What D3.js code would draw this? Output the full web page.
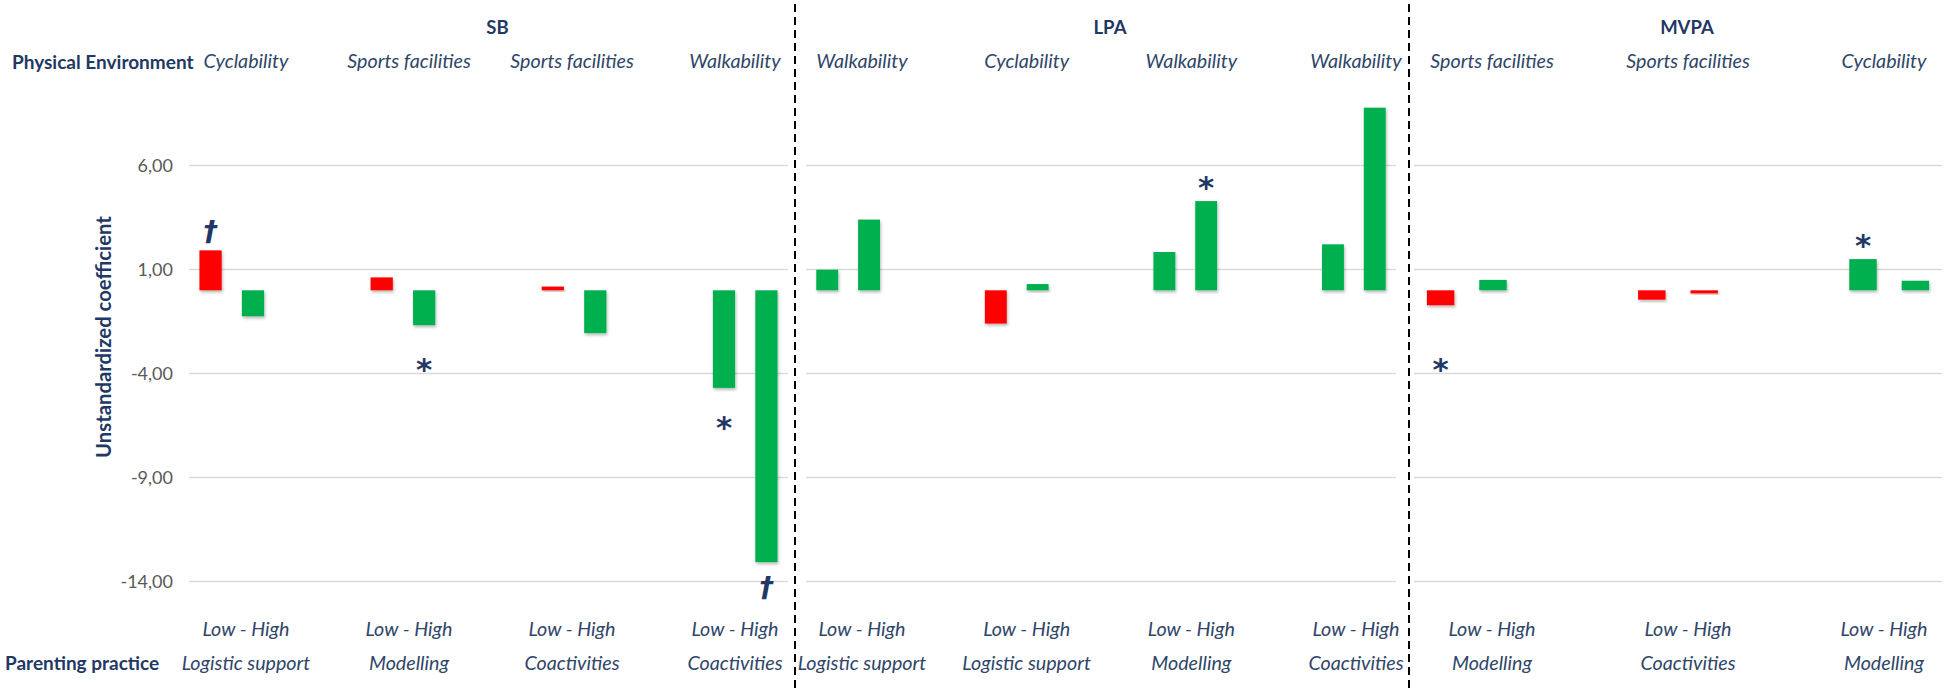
<!DOCTYPE html>
<html>
<head>
<meta charset="utf-8">
<script src="https://cdn.jsdelivr.net/npm/d3@7"></script>
<style>
  html, body { margin: 0; padding: 0; background: #fff; }
  svg { display: block; font-family: Lato, "Open Sans", sans-serif; }
</style>
</head>
<body>
<svg id="chart" width="1946" height="692"></svg>
<script>
// ---------------- data ----------------
const panels = ["SB", "LPA", "MVPA"];
const panelOf = ["SB", "SB", "SB", "SB", "LPA", "LPA", "LPA", "LPA", "MVPA", "MVPA", "MVPA"];
const environment = ["Cyclability", "Sports facilities", "Sports facilities", "Walkability",
  "Walkability", "Cyclability", "Walkability", "Walkability",
  "Sports facilities", "Sports facilities", "Cyclability"];
const practice = ["Logistic support", "Modelling", "Coactivities", "Coactivities",
  "Logistic support", "Logistic support", "Modelling", "Coactivities",
  "Modelling", "Coactivities", "Modelling"];
const levels = ["Low", "High"];
const lowValues = [1.92, 0.62, 0.18, -4.69, 0.99, -1.60, 1.84, 2.21, -0.72, -0.45, 1.50];
const highValues = [-1.25, -1.68, -2.06, -13.07, 3.40, 0.30, 4.29, 8.78, 0.50, -0.15, 0.46];
const lowColors = ["red", "red", "red", "green", "green", "red", "green", "green", "red", "red", "green"];
const highColors = ["green", "green", "green", "green", "green", "green", "green", "green", "green", "red", "green"];
const lowSig = ["†", "", "", "*", "", "", "", "", "*", "", "*"];
const highSig = ["", "*", "", "†", "", "", "*", "", "", "", ""];
const tickValues = [6, 1, -4, -9, -14];
const tickLabels = ["6,00", "1,00", "-4,00", "-9,00", "-14,00"];

// ---------------- layout ----------------
const W = 1946, H = 692;
const svg = d3.select("#chart");
const fillOf = { red: "#FF0000", green: "#00B050" };
const navy = "#1F3864";
const labelBlue = "#2F4669";

const panelRange = { SB: [189, 788], LPA: [806, 1396], MVPA: [1414, 1942] };
const labelRange = { SB: [246, 735], LPA: [862, 1356], MVPA: [1492, 1884] };
const dividers = [795, 1409];

const y = d3.scaleLinear().domain([-14, 6]).range([581.5, 165.5]);

const defs = svg.append("defs");
const f = defs.append("filter").attr("id", "shadow").attr("x", "-30%").attr("y", "-30%").attr("width", "160%").attr("height", "160%");
f.append("feDropShadow").attr("dx", 1).attr("dy", 2).attr("stdDeviation", 1.5)
  .attr("flood-color", "#000").attr("flood-opacity", 0.28);

// records
const cats = d3.range(panelOf.length);
const bars = [];
cats.forEach(i => {
  bars.push({ i, level: "Low", v: lowValues[i], color: lowColors[i], sig: lowSig[i] });
  bars.push({ i, level: "High", v: highValues[i], color: highColors[i], sig: highSig[i] });
});

// scales per panel
const xScale = {}, inner = {}, lblScale = {};
panels.forEach(p => {
  const idx = cats.filter(i => panelOf[i] === p);
  const sx = d3.scalePoint().domain(idx).range(panelRange[p]).padding(0.25);
  xScale[p] = sx;
  const st = sx.step();
  inner[p] = d3.scaleBand().domain(levels).range([-0.189 * st, 0.189 * st]).paddingInner(0.476);
  lblScale[p] = d3.scalePoint().domain(idx).range(labelRange[p]);
});

// gridlines per panel
panels.forEach(p => {
  svg.append("g").selectAll("line").data(tickValues).join("line")
    .attr("x1", panelRange[p][0]).attr("x2", panelRange[p][1])
    .attr("y1", d => y(d)).attr("y2", d => y(d))
    .attr("stroke", "#D9D9D9").attr("stroke-width", 1.6);
});

// y axis (tick labels only)
const yAxis = d3.axisLeft(y).tickValues(tickValues).tickSize(0).tickPadding(0)
  .tickFormat((d, k) => tickLabels[k]);
const ya = svg.append("g").attr("transform", "translate(173,0)").call(yAxis);
ya.select(".domain").remove();
ya.selectAll("text").attr("fill", "#595959").style("font-size", "18px").style("font-family", "Lato, sans-serif");

// axis title
svg.append("text")
  .attr("transform", "translate(103,337) rotate(-90)")
  .attr("text-anchor", "middle").attr("dominant-baseline", "central")
  .attr("fill", navy).style("font-weight", "bold").style("font-size", "20.3px")
  .text("Unstandardized coefficient");

// bars
svg.append("g").selectAll("rect").data(bars).join("rect")
  .attr("x", d => xScale[panelOf[d.i]](d.i) + inner[panelOf[d.i]](d.level))
  .attr("width", d => inner[panelOf[d.i]].bandwidth())
  .attr("y", d => y(Math.max(0, d.v)))
  .attr("height", d => Math.abs(y(d.v) - y(0)))
  .attr("fill", d => fillOf[d.color])
  .attr("filter", "url(#shadow)");

// significance markers (above positive bars, below negative bars)
const belowFloor = y(-3.4);
svg.append("g").selectAll("text").data(bars.filter(d => d.sig)).join("text")
  .attr("x", d => xScale[panelOf[d.i]](d.i) + inner[panelOf[d.i]](d.level) + inner[panelOf[d.i]].bandwidth() / 2)
  .attr("y", d => {
    const end = y(d.v);
    let c;
    if (d.v >= 0) c = end - (d.sig === "*" ? 22 : 18);
    else c = d.sig === "*" ? Math.max(end + 31, belowFloor) : end + 26;
    return d.sig === "*" ? c + 19 : c + 9;
  })
  .attr("text-anchor", "middle")
  .attr("fill", navy)
  .style("font-family", "'DejaVu Sans', sans-serif")
  .style("font-weight", "bold")
  .style("font-style", d => d.sig === "†" ? "italic" : "normal")
  .style("font-size", d => d.sig === "*" ? "31px" : "28px")
  .text(d => d.sig);

// divider lines
svg.append("g").selectAll("line").data(dividers).join("line")
  .attr("x1", d => d).attr("x2", d => d).attr("y1", 4).attr("y2", 690)
  .attr("stroke", "#000").attr("stroke-width", 2).attr("stroke-dasharray", "8,5");

// panel titles
svg.append("g").selectAll("text").data(panels).join("text")
  .attr("x", p => (panelRange[p][0] + panelRange[p][1]) / 2 + 9)
  .attr("y", 27).attr("text-anchor", "middle").attr("dominant-baseline", "central")
  .attr("fill", navy).style("font-weight", "bold").style("font-size", "18.5px")
  .text(p => p);

// row headers
svg.append("text").attr("x", 12).attr("y", 61).attr("dominant-baseline", "central")
  .attr("fill", navy).style("font-weight", "bold").style("font-size", "19px")
  .text("Physical Environment");
svg.append("text").attr("x", 5).attr("y", 662).attr("dominant-baseline", "central")
  .attr("fill", navy).style("font-weight", "bold").style("font-size", "19px")
  .text("Parenting practice");

// category labels
const lx = i => lblScale[panelOf[i]](i);
const italic = sel => sel.attr("text-anchor", "middle").attr("dominant-baseline", "central")
  .attr("fill", labelBlue).style("font-style", "italic").style("font-size", "19.7px");
svg.append("g").selectAll("text").data(cats).join("text")
  .attr("x", lx).attr("y", 60).call(italic).text(i => environment[i]);
svg.append("g").selectAll("text").data(cats).join("text")
  .attr("x", lx).attr("y", 628).call(italic).text(() => levels.join(" - "));
svg.append("g").selectAll("text").data(cats).join("text")
  .attr("x", lx).attr("y", 662).call(italic).text(i => practice[i]);
</script>
</body>
</html>
